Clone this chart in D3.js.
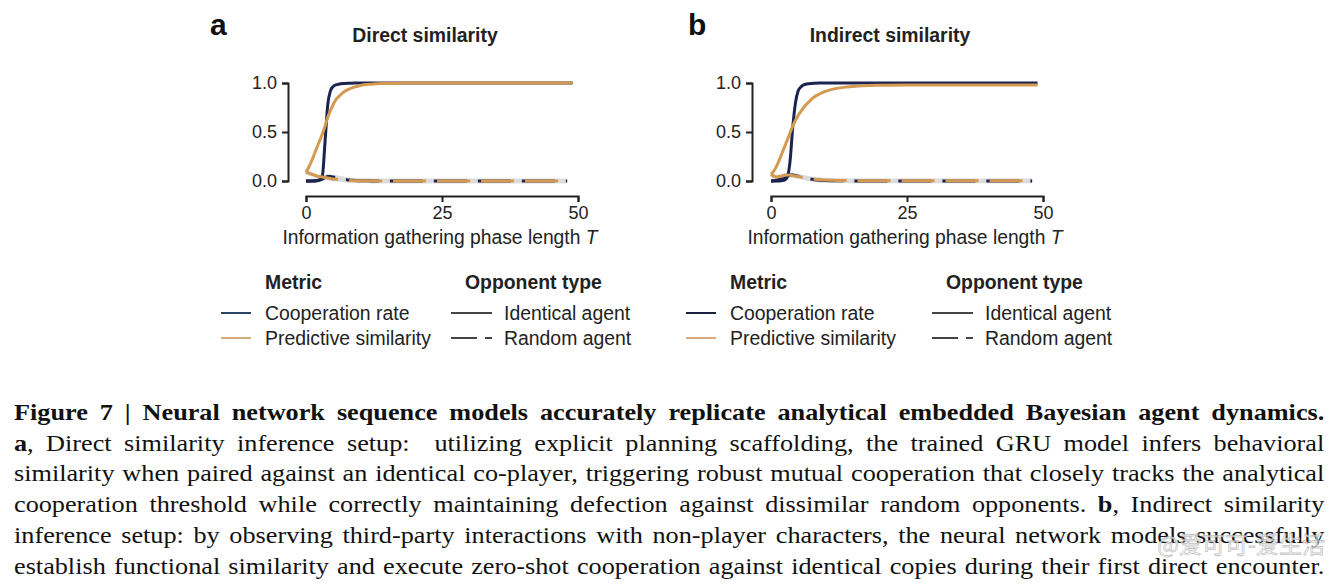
<!DOCTYPE html>
<html><head><meta charset="utf-8">
<script src="https://cdn.jsdelivr.net/npm/d3@7"></script>
<style>
html,body{margin:0;padding:0;background:#fff;}
svg{display:block;}
</style></head>
<body>
<svg id="chart" width="1340" height="587"></svg>
<script>
// ---------- DATA ----------
const panelLetters = ["a", "b"];
const panelTitles = ["Direct similarity", "Indirect similarity"];
const xTicks = [0, 25, 50];
const yTicks = [0.0, 0.5, 1.0];
const xLabel = "Information gathering phase length ";
const xLabelVar = "T";

const tIdentical = [0,0.5,1,1.5,2,2.5,3,3.5,4,4.5,5,5.5,6,7,8,9,10,12,14,16,18,20,25,30,35,40,45,49];
const tRandom    = [0,0.5,1,1.5,2,2.5,3,3.5,4,4.5,5,5.5,6,7,8,9,10,12,14,16,18,20,25,30,35,40,45,48];

// Panel a: direct similarity
const coopIdenticalA = [0,0,0,0,0.003,0.01,0.05,0.4,0.78,0.92,0.965,0.98,0.988,0.995,0.998,1,1,1,1,1,1,1,1,1,1,1,1,1];
const simIdenticalA  = [0.09,0.14,0.2,0.27,0.34,0.41,0.48,0.56,0.65,0.72,0.78,0.83,0.86,0.91,0.94,0.96,0.975,0.988,0.995,0.998,1,1,1,1,1,1,1,1];
const coopRandomA    = [0,0,0,0.002,0.005,0.01,0.02,0.035,0.045,0.045,0.04,0.035,0.03,0.02,0.01,0.006,0.003,0.001,0,0,0,0,0,0,0,0,0,0];
const simRandomA     = [0.09,0.08,0.07,0.06,0.05,0.045,0.04,0.035,0.03,0.025,0.02,0.017,0.014,0.009,0.005,0.003,0.002,0.001,0,0,0,0,0,0,0,0,0,0];

// Panel b: indirect similarity
const coopIdenticalB = [0,0,0,0,0.004,0.01,0.04,0.2,0.55,0.8,0.92,0.96,0.98,0.993,0.998,1,1,1,1,1,1,1,1,1,1,1,1,1];
const simIdenticalB  = [0.07,0.1,0.15,0.21,0.28,0.35,0.42,0.49,0.56,0.62,0.67,0.71,0.75,0.81,0.86,0.89,0.915,0.945,0.96,0.97,0.975,0.977,0.98,0.98,0.98,0.98,0.98,0.98];
const coopRandomB    = [0,0.002,0.008,0.015,0.025,0.04,0.055,0.06,0.06,0.055,0.05,0.042,0.035,0.022,0.013,0.008,0.005,0.002,0.001,0,0,0,0,0,0,0,0,0];
const simRandomB     = [0.07,0.05,0.04,0.045,0.05,0.058,0.062,0.06,0.055,0.05,0.045,0.04,0.035,0.026,0.018,0.012,0.009,0.006,0.004,0.003,0.003,0.003,0.003,0.003,0.003,0.003,0.003,0.003];

const metricNames = ["Cooperation rate", "Predictive similarity"];
const opponentNames = ["Identical agent", "Random agent"];

const captionLines = [
  [["Figure 7 | Neural network sequence models accurately replicate analytical embedded Bayesian agent dynamics.", true]],
  [["a", true], [", Direct similarity inference setup:  utilizing explicit planning scaffolding, the trained GRU model infers behavioral", false]],
  [["similarity when paired against an identical co-player, triggering robust mutual cooperation that closely tracks the analytical", false]],
  [["cooperation threshold while correctly maintaining defection against dissimilar random opponents. ", false], ["b", true], [", Indirect similarity", false]],
  [["inference setup: by observing third-party interactions with non-player characters, the neural network models successfully", false]],
  [["establish functional similarity and execute zero-shot cooperation against identical copies during their first direct encounter.", false]]
];
const watermark = "@爱可可-爱生活";

// ---------- STYLE ----------
const NAVY = "#1b2450", ORANGE = "#d49a52";
const SANS = "'Liberation Sans', Arial, Helvetica, sans-serif";
const SERIF = "'Liberation Serif', 'Times New Roman', serif";
const TXT = "#222";

const svg = d3.select("#chart");

const panels = [
  {xr:[306,578], yAxisX:288, yr:[181,83], letterX:210, titleX:425,
   series:[
     {t:tIdentical, v:coopIdenticalA, c:NAVY, dash:null},
     {t:tRandom, v:coopRandomA, c:NAVY, dash:"33,11", off:3},
     {t:tRandom, v:simRandomA, c:ORANGE, dash:"33,11", off:0},
     {t:tIdentical, v:simIdenticalA, c:ORANGE, dash:null}
   ],
   leg:{lineX:221, textX:265, oppLineX:451, oppTextX:504, oppTitleX:465, coopColor:"#2c4468", simColor:"#d6ad77"}},
  {xr:[771,1043], yAxisX:752, yr:[181,83], letterX:688, titleX:890,
   series:[
     {t:tIdentical, v:coopIdenticalB, c:NAVY, dash:null},
     {t:tRandom, v:coopRandomB, c:NAVY, dash:"33,11", off:3},
     {t:tRandom, v:simRandomB, c:ORANGE, dash:"33,11", off:0},
     {t:tIdentical, v:simIdenticalB, c:ORANGE, dash:null}
   ],
   leg:{lineX:686, textX:730, oppLineX:932, oppTextX:985, oppTitleX:946, coopColor:"#1c2040", simColor:"#d6ad77"}}
];

panels.forEach((p, i) => {
  const g = svg.append("g");
  const x = d3.scaleLinear().domain([0,50]).range(p.xr);
  const y = d3.scaleLinear().domain([0,1]).range(p.yr);

  // panel letter + title
  g.append("text").attr("x", p.letterX).attr("y", 35).text(panelLetters[i])
    .attr("font-family", SANS).attr("font-weight", "bold").attr("font-size", 30).attr("fill", "#111");
  g.append("text").attr("x", p.titleX).attr("y", 42).attr("text-anchor", "middle").text(panelTitles[i])
    .attr("font-family", SANS).attr("font-weight", "bold").attr("font-size", 19.4).attr("fill", TXT);

  // y axis
  const ya = g.append("g").attr("transform", `translate(${p.yAxisX},0)`)
    .call(d3.axisLeft(y).tickValues(yTicks).tickFormat(d3.format(".1f")).tickSizeOuter(0).tickSize(6).tickPadding(5));
  // x axis
  const xa = g.append("g").attr("transform", `translate(0,196)`)
    .call(d3.axisBottom(x).tickValues(xTicks).tickFormat(d3.format("d")).tickSizeOuter(0).tickSize(6).tickPadding(4));
  [ya, xa].forEach(a => {
    a.select(".domain").attr("stroke", "#222").attr("stroke-width", 2);
    a.selectAll(".tick line").attr("stroke", "#222").attr("stroke-width", 2);
    a.selectAll(".tick text").attr("font-family", SANS).attr("font-size", 18).attr("fill", TXT);
  });

  // x label
  const xl = g.append("text").attr("x", (p.xr[0]+p.xr[1])/2 - 2).attr("y", 244).attr("text-anchor", "middle")
    .attr("font-family", SANS).attr("font-size", 19.3).attr("fill", TXT);
  xl.append("tspan").text(xLabel);
  xl.append("tspan").attr("font-style", "italic").text(xLabelVar);

  // lines
  const line = d3.line().x(d => x(d[0])).y(d => y(d[1])).curve(d3.curveMonotoneX);
  // light confidence halo under random-opponent lines
  p.series.filter(s => s.dash).forEach(s => {
    g.append("path").datum(s.t.map((t,k) => [t, s.v[k]])).attr("d", line)
      .attr("fill", "none").attr("stroke", "#dcdcdc").attr("stroke-width", 4.5).attr("stroke-linecap", "butt");
  });
  p.series.forEach(s => {
    const path = g.append("path").datum(s.t.map((t,k) => [t, s.v[k]])).attr("d", line)
      .attr("fill", "none").attr("stroke", s.c).attr("stroke-width", 3).attr("stroke-linejoin", "round");
    if (s.dash) path.attr("stroke-dasharray", s.dash).attr("stroke-dashoffset", s.off);
  });

  // legend
  const L = p.leg;
  const lg = g.append("g").attr("font-family", SANS).attr("font-size", 19.4).attr("fill", TXT);
  lg.append("text").attr("x", L.textX).attr("y", 289).attr("font-weight", "bold").text("Metric");
  lg.append("text").attr("x", L.oppTitleX).attr("y", 289).attr("font-weight", "bold").text("Opponent type");
  const rows = [313, 338];
  const metricColors = [L.coopColor, L.simColor];
  metricNames.forEach((m, k) => {
    lg.append("line").attr("x1", L.lineX).attr("x2", L.lineX + 30).attr("y1", rows[k]).attr("y2", rows[k])
      .attr("stroke", metricColors[k]).attr("stroke-width", 2);
    lg.append("text").attr("x", L.textX).attr("y", rows[k] + 6.5).text(m);
  });
  opponentNames.forEach((m, k) => {
    const ln = lg.append("line").attr("x1", L.oppLineX).attr("x2", L.oppLineX + 41).attr("y1", rows[k]).attr("y2", rows[k])
      .attr("stroke", "#444").attr("stroke-width", 2);
    if (k === 1) ln.attr("stroke-dasharray", "26,8");
    lg.append("text").attr("x", L.oppTextX).attr("y", rows[k] + 6.5).text(m);
  });
});

// ---------- CAPTION ----------
const capX0 = 14, capX1 = 1325;
const target = capX1 - capX0;
const baselines = [420, 450.7, 481.4, 512.1, 542.8, 573.5];
const capNodes = captionLines.map((segs, i) => {
  const gg = svg.append("g");
  const t = gg.append("text").attr("x", 0).attr("y", 0)
    .attr("font-family", SERIF).attr("font-size", 23).attr("fill", "#111")
    .style("white-space", "pre");
  segs.forEach(([s, b]) => {
    t.append("tspan").attr("font-weight", b ? "bold" : "normal").text(s);
  });
  const full = segs.map(s => s[0]).join("");
  return {gg, t, w: t.node().getComputedTextLength(), n: (full.match(/ /g) || []).length, i};
});
const sc = 0.985 * d3.min(capNodes, c => target / c.w);
capNodes.forEach(c => {
  c.gg.attr("transform", `translate(${capX0},${baselines[c.i]}) scale(${sc},1)`);
  c.t.attr("word-spacing", (target / sc - c.w) / c.n);
});

// watermark
svg.append("text").attr("x", 1325).attr("y", 553).attr("text-anchor", "end").text(watermark)
  .attr("font-family", "'Noto Sans CJK SC', sans-serif").attr("font-size", 23)
  .attr("fill", "#ffffff").attr("fill-opacity", 0.7).attr("stroke", "#9a9a9a").attr("stroke-width", 0.8).attr("stroke-opacity", 0.6);
</script>
</body></html>
